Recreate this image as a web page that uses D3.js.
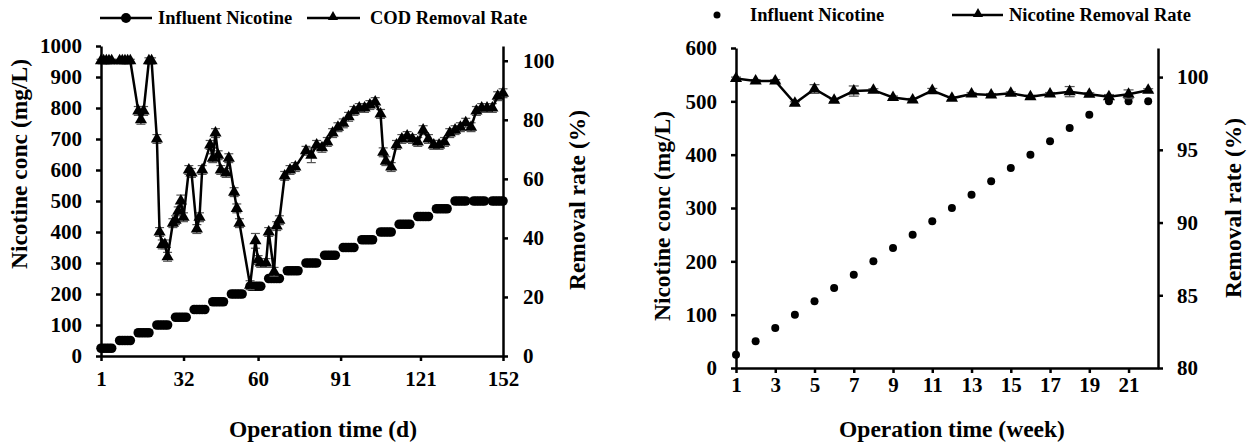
<!DOCTYPE html>
<html>
<head>
<meta charset="utf-8">
<script src="https://cdn.jsdelivr.net/npm/d3@7/dist/d3.min.js"></script>
<style>
  body { margin: 0; background: #fff; }
  text { font-family: "Liberation Serif", "Times New Roman", serif; font-weight: bold; fill: #000; }
</style>
</head>
<body>
<svg id="chart" width="1250" height="446"></svg>
<script>
// ---- left panel (daily) ----
const weekNumbers = [1,2,3,4,5,6,7,8,9,10,11,12,13,14,15,16,17,18,19,20,21,22];
const influentByWeek = [25,50,75,100,125,150,175,200,225,250,275,300,325,350,375,400,425,450,475,500,500,500];
const sampleDayOffsets = [0,1,2,3,4]; // sampled days inside each week

const codDays = [1,2,3,4,5,8,9,10,11,12,15,16,17,19,20,22,23,24,25,26,28,29,30,31,32,34,35,37,38,39,
  42,43,44,45,46,48,49,51,52,53,57,59,60,61,63,64,66,67,68,70,72,74,78,80,82,84,86,88,90,92,94,96,98,100,
  102,104,106,107,108,110,112,114,116,118,120,122,124,126,128,130,132,134,136,138,140,142,144,146,148,150,152];
const codRate = [100,100,100,100,100,100,100,100,100,100,83,80,83,100,100,73.5,42,37.8,37.8,33.6,
  45,46,49,52.5,47,63,62,43,47,63,71.5,67,75.5,68,63,62,67,55.5,50,45,24,39,32.5,31.5,31.5,42,28.5,44,46,
  61,63,64,69.5,68,71.5,70.5,72.5,75.5,77.5,78.8,81,83,84,84,85,86,82,69,66,64,
  71.5,73.5,74.5,73.5,72.5,76.5,73.5,71.5,71.5,72.5,75.5,76.5,77.5,79,77.5,83,84,84,84,88,89];
const codErr = [0.5,0.5,0.5,0.5,0.5,0.5,0.5,0.5,0.5,0.5,1.5,1.5,1.5,1,1,1.5,1.5,1.5,1.5,1.5,
  1.5,1.5,1.5,2,1.5,1.5,1.5,1.5,1.5,1.5,1.5,1.5,1.5,1.5,1.5,1.5,1.5,1.5,1.5,1.5,1.5,2.5,1.5,1.5,1.5,1.5,1.5,1.5,1.5,
  1.5,1.5,1.5,1.5,2.5,1.5,1.5,1.5,1.5,1.5,1.5,1.5,1.5,1.5,1.5,1.5,1.5,1.5,1.5,1.5,1.5,
  1.5,1.5,1.5,1.5,1.5,1.5,1.5,1.5,1.5,1.5,1.5,1.5,1.5,1.5,1.5,1.5,1.5,1.5,1.5,1.5,1.5];
const dayTicks = [1,32,60,91,121,152];

// ---- right panel (weekly) ----
const weeklyInfluent = [25,50,75,100,125,150,175,200,225,250,275,300,325,350,375,400,425,450,475,500,500,500];
const nicRemoval = [99.9,99.73,99.73,98.2,99.18,98.4,99.04,99.1,98.6,98.43,99.07,98.54,
  98.84,98.77,98.89,98.65,98.84,99.0,98.82,98.65,98.82,99.1];
const nicErr = [0.1,0.1,0.1,0.1,0.3,0.1,0.35,0.1,0.1,0.1,0.15,0.1,0.1,0.1,0.1,0.1,0.1,0.35,0.1,0.15,0.3,0.1];
const weekTicks = [1,3,5,7,9,11,13,15,17,19,21];

const svg = d3.select("#chart");
const tri = d3.symbol().type(d3.symbolTriangle).size(64);

function styleAxis(g) {
  g.select(".domain").attr("stroke", "#000").attr("stroke-width", 2.5);
  g.selectAll(".tick line").attr("stroke", "#000").attr("stroke-width", 2.5);
  g.selectAll(".tick text").style("font-size", "21px").attr("fill", "#000");
}

function errorBars(g, pts, x, y, capW) {
  const eb = g.append("g").attr("stroke", "#555").attr("stroke-width", 1.2);
  pts.forEach(p => {
    const cx = x(p.x), y1 = y(p.v - p.e), y2 = y(p.v + p.e);
    eb.append("line").attr("x1", cx).attr("x2", cx).attr("y1", y1).attr("y2", y2);
    eb.append("line").attr("x1", cx - capW/2).attr("x2", cx + capW/2).attr("y1", y1).attr("y2", y1);
    eb.append("line").attr("x1", cx - capW/2).attr("x2", cx + capW/2).attr("y1", y2).attr("y2", y2);
  });
}

// ================= LEFT PANEL =================
{
  const x = d3.scaleLinear().domain([1, 152]).range([101, 503]);
  const yL = d3.scaleLinear().domain([0, 1000]).range([356, 46]);
  const yR = d3.scaleLinear().domain([0, 105]).range([356, 46]);
  const g = svg.append("g");

  // influent nicotine: sampled days of each week
  const infl = [];
  weekNumbers.forEach((w, i) => {
    const start = 1 + (w - 1) * 7;
    sampleDayOffsets.forEach(o => {
      if (start + o <= 152) infl.push({ x: start + o, v: influentByWeek[i] });
    });
  });
  g.append("g").selectAll("circle").data(infl).enter().append("circle")
    .attr("cx", d => x(d.x)).attr("cy", d => yL(d.v)).attr("r", 4.8).attr("fill", "#000");

  const cod = codDays.map((d, i) => ({ x: d, v: codRate[i], e: codErr[i] }));
  errorBars(g, cod, x, yR, 9);
  g.append("path").datum(cod)
    .attr("fill", "none").attr("stroke", "#000").attr("stroke-width", 2.5)
    .attr("d", d3.line().x(d => x(d.x)).y(d => yR(d.v)));
  g.append("g").selectAll("path").data(cod).enter().append("path")
    .attr("d", tri).attr("transform", d => `translate(${x(d.x)},${yR(d.v)})`).attr("fill", "#000");

  g.append("g").attr("transform", "translate(0,356)")
    .call(d3.axisBottom(x).tickValues(dayTicks).tickSize(5).tickSizeOuter(0).tickPadding(10))
    .call(styleAxis);
  g.append("g").attr("transform", "translate(101,0)")
    .call(d3.axisLeft(yL).tickValues(d3.range(0, 1001, 100)).tickFormat(d3.format("d"))
      .tickSize(5).tickSizeOuter(0).tickPadding(14))
    .call(styleAxis);
  g.append("g").attr("transform", "translate(503,0)")
    .call(d3.axisRight(yR).tickValues([0,20,40,60,80,100]).tickSize(5).tickSizeOuter(0).tickPadding(15))
    .call(styleAxis);

  g.append("text").attr("x", 323).attr("y", 437).attr("text-anchor", "middle")
    .style("font-size", "23.5px").text("Operation time (d)");
  g.append("text").attr("transform", "translate(27,164) rotate(-90)").attr("text-anchor", "middle")
    .style("font-size", "23.5px").text("Nicotine conc (mg/L)");
  g.append("text").attr("transform", "translate(585,200) rotate(-90)").attr("text-anchor", "middle")
    .style("font-size", "23.5px").text("Removal rate (%)");

  // legend
  g.append("line").attr("x1", 100).attr("x2", 152).attr("y1", 18).attr("y2", 18)
    .attr("stroke", "#000").attr("stroke-width", 2.5);
  g.append("circle").attr("cx", 126).attr("cy", 18).attr("r", 5).attr("fill", "#000");
  g.append("text").attr("x", 158).attr("y", 18).attr("dy", "0.35em").style("font-size", "18.5px").text("Influent Nicotine");
  g.append("line").attr("x1", 307).attr("x2", 360).attr("y1", 18).attr("y2", 18)
    .attr("stroke", "#000").attr("stroke-width", 2.5);
  g.append("path").attr("d", d3.symbol().type(d3.symbolTriangle).size(45)).attr("transform", "translate(333,17)");
  g.append("text").attr("x", 370).attr("y", 18).attr("dy", "0.35em").style("font-size", "18.5px").text("COD Removal Rate");
}

// ================= RIGHT PANEL =================
{
  const x = d3.scaleLinear().domain([1, 22.5]).range([736, 1158]);
  const yL = d3.scaleLinear().domain([0, 600]).range([368, 48]);
  const yR = d3.scaleLinear().domain([80, 102]).range([368, 48]);
  const g = svg.append("g");

  const infl = weekNumbers.map((w, i) => ({ x: w, v: weeklyInfluent[i] }));
  g.append("g").selectAll("circle").data(infl).enter().append("circle")
    .attr("cx", d => x(d.x)).attr("cy", d => yL(d.v)).attr("r", 4).attr("fill", "#000");

  const rem = weekNumbers.map((w, i) => ({ x: w, v: nicRemoval[i], e: nicErr[i] }));
  errorBars(g, rem, x, yR, 10);
  g.append("path").datum(rem)
    .attr("fill", "none").attr("stroke", "#000").attr("stroke-width", 2.5)
    .attr("d", d3.line().x(d => x(d.x)).y(d => yR(d.v)));
  g.append("g").selectAll("path").data(rem).enter().append("path")
    .attr("d", tri).attr("transform", d => `translate(${x(d.x)},${yR(d.v)})`).attr("fill", "#000");

  g.append("g").attr("transform", "translate(0,368)")
    .call(d3.axisBottom(x).tickValues(weekTicks).tickSize(5).tickSizeOuter(0).tickPadding(4))
    .call(styleAxis);
  g.append("g").attr("transform", "translate(736,0)")
    .call(d3.axisLeft(yL).tickValues(d3.range(0, 601, 100)).tickSize(5).tickSizeOuter(0).tickPadding(14))
    .call(styleAxis);
  g.append("g").attr("transform", "translate(1158,0)")
    .call(d3.axisRight(yR).tickValues([80,85,90,95,100]).tickSize(5).tickSizeOuter(0).tickPadding(14))
    .call(styleAxis);

  g.append("text").attr("x", 952).attr("y", 437).attr("text-anchor", "middle")
    .style("font-size", "23.5px").text("Operation time (week)");
  g.append("text").attr("transform", "translate(670,216) rotate(-90)").attr("text-anchor", "middle")
    .style("font-size", "23.5px").text("Nicotine conc (mg/L)");
  g.append("text").attr("transform", "translate(1241,208) rotate(-90)").attr("text-anchor", "middle")
    .style("font-size", "23.5px").text("Removal rate (%)");

  // legend
  g.append("circle").attr("cx", 717).attr("cy", 15).attr("r", 3.5).attr("fill", "#000");
  g.append("text").attr("x", 750).attr("y", 15).attr("dy", "0.35em").style("font-size", "18.5px").text("Influent Nicotine");
  g.append("line").attr("x1", 952).attr("x2", 1003).attr("y1", 15).attr("y2", 15)
    .attr("stroke", "#000").attr("stroke-width", 2.5);
  g.append("path").attr("d", d3.symbol().type(d3.symbolTriangle).size(45)).attr("transform", "translate(978,14)");
  g.append("text").attr("x", 1009).attr("y", 15).attr("dy", "0.35em").style("font-size", "18.5px").text("Nicotine Removal Rate");
}
</script>
</body>
</html>
